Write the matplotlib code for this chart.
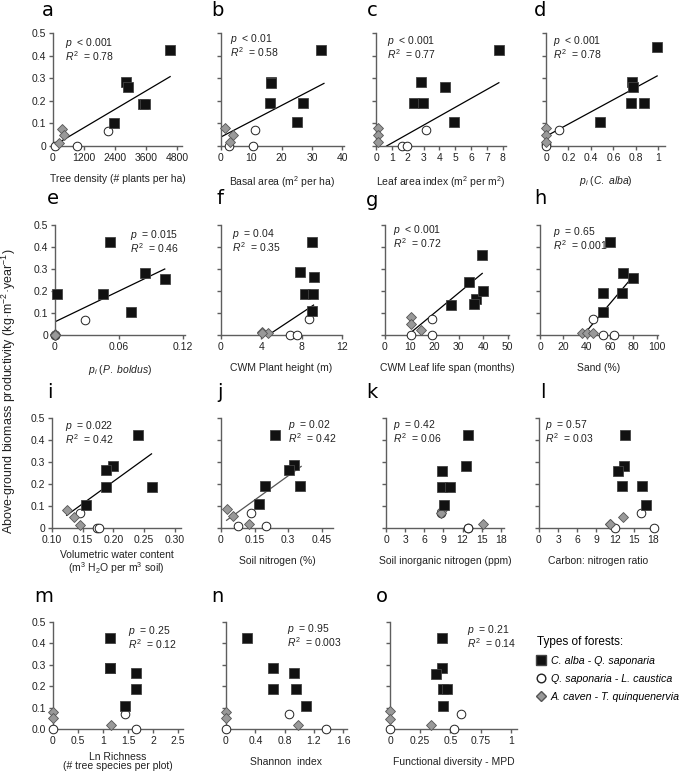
import matplotlib.pyplot as plt
from matplotlib.lines import Line2D

plt.rcParams['font.family'] = ['Liberation Sans', 'DejaVu Sans']
plt.rcParams['mathtext.fontset'] = 'custom'
plt.rcParams['mathtext.rm'] = 'Liberation Sans'
plt.rcParams['mathtext.it'] = 'Liberation Sans:italic'

# (x, y) per forest type in each panel; y = AGB productivity (kg m-2 yr-1)
a_alba = [(4540, 0.426), (2815, 0.282), (2918, 0.26), (3480, 0.187), (3560, 0.187), (2360, 0.102)]
a_sap = [(2140, 0.067), (934, 0.0), (65, 0.0)]
a_cav = [(350, 0.077), (415, 0.047), (233, 0.015)]
a_fit = [(0, 0.0), (4540, 0.307)]

b_alba = [(32.8, 0.426), (16.6, 0.284), (16.4, 0.28), (27.0, 0.19), (16.0, 0.19), (25.1, 0.107)]
b_sap = [(11.3, 0.07), (10.5, 0.0), (2.75, 0.0)]
b_cav = [(1.4, 0.08), (3.9, 0.05), (2.9, 0.018)]
b_fit = [(0, 0.04), (33.9, 0.277)]

c_alba = [(7.75, 0.426), (2.84, 0.285), (4.36, 0.26), (2.42, 0.19), (2.99, 0.19), (4.95, 0.107)]
c_sap = [(3.16, 0.07), (1.62, 0.0), (1.94, 0.0)]
c_cav = [(0.15, 0.08), (0.15, 0.05), (0.15, 0.018)]
c_fit = [(0.67, 0.0), (7.75, 0.28)]

d_alba = [(0.99, 0.436), (0.765, 0.285), (0.772, 0.262), (0.754, 0.19), (0.87, 0.19), (0.48, 0.105)]
d_sap = [(0.118, 0.07), (0.0, 0.008), (0.0, 0.0)]
d_cav = [(0.0, 0.08), (0.0, 0.05), (0.0, 0.018)]
d_fit = [(0, 0.043), (0.99, 0.31)]

e_alba = [(0.0514, 0.422), (0.0848, 0.282), (0.1035, 0.256), (0.002, 0.187), (0.045, 0.187), (0.071, 0.104)]
e_sap = [(0.028, 0.066), (0.0, 0.0), (0.0, 0.0)]
e_cav = [(0.0, 0.005), (0.0, 0.0), (0.0, 0.0)]
e_fit = [(0, 0.06), (0.103, 0.3)]

f_alba = [(9.02, 0.425), (7.79, 0.286), (9.18, 0.262), (8.35, 0.188), (9.08, 0.188), (9.02, 0.107)]
f_sap = [(8.75, 0.071), (6.8, 0.0), (7.52, 0.0)]
f_cav = [(4.11, 0.014), (4.7, 0.008), (4.1, 0.01)]
f_fit = [(4.7, 0.0), (9.18, 0.136)]

g_alba = [(39.6, 0.363), (34.2, 0.242), (36.9, 0.163), (36.2, 0.143), (39.9, 0.2), (27.0, 0.135)]
g_sap = [(19.2, 0.074), (10.4, 0.0), (19.2, 0.0)]
g_cav = [(10.4, 0.082), (10.4, 0.052), (14.6, 0.021)]
g_fit = [(10.4, 0.01), (39.6, 0.28)]

h_alba = [(60.0, 0.424), (71.4, 0.284), (80.0, 0.258), (53.7, 0.19), (70.0, 0.19), (54.3, 0.106)]
h_sap = [(45.7, 0.071), (53.7, 0.0), (63.4, 0.0)]
h_cav = [(35.7, 0.01), (40.6, 0.01), (45.7, 0.01)]
h_fit = [(37.1, 0.0), (80.0, 0.269)]

i_alba = [(0.2405, 0.425), (0.199, 0.283), (0.188, 0.262), (0.188, 0.187), (0.262, 0.187), (0.1557, 0.105)]
i_sap = [(0.146, 0.067), (0.173, 0.0), (0.176, 0.0)]
i_cav = [(0.124, 0.081), (0.135, 0.051), (0.146, 0.015)]
i_fit = [(0.124, 0.058), (0.262, 0.337)]

j_alba = [(0.24, 0.423), (0.324, 0.285), (0.303, 0.263), (0.195, 0.189), (0.354, 0.189), (0.17, 0.108)]
j_sap = [(0.135, 0.069), (0.074, 0.008), (0.2, 0.008)]
j_cav = [(0.025, 0.085), (0.055, 0.054), (0.126, 0.02)]
j_fit = [(0.025, 0.035), (0.358, 0.28)]

k_alba = [(12.9, 0.424), (12.6, 0.284), (8.74, 0.261), (8.74, 0.188), (10.05, 0.188), (9.16, 0.106)]
k_sap = [(8.59, 0.069), (12.8, 0.0), (12.9, 0.0)]
k_cav = [(8.74, 0.083), (15.2, 0.018), (8.6, 0.07)]

l_alba = [(13.6, 0.424), (13.4, 0.28), (12.5, 0.261), (13.06, 0.189), (16.2, 0.189), (16.8, 0.106)]
l_sap = [(16.05, 0.07), (12.0, 0.0), (18.15, 0.0)]
l_cav = [(13.27, 0.051), (11.17, 0.019), (11.2, 0.017)]

m_alba = [(1.133, 0.427), (1.133, 0.286), (1.653, 0.262), (1.653, 0.189), (1.433, 0.109), (1.133, 0.286)]
m_sap = [(1.433, 0.071), (1.667, 0.0), (0.0, 0.0)]
m_cav = [(0.0, 0.081), (0.0, 0.05), (1.153, 0.019)]

n_alba = [(0.291, 0.427), (0.636, 0.286), (0.927, 0.262), (0.636, 0.189), (0.955, 0.189), (1.086, 0.107)]
n_sap = [(0.855, 0.07), (1.36, 0.0), (0.0, 0.0)]
n_cav = [(0.0, 0.081), (0.0, 0.05), (0.986, 0.019)]

o_alba = [(0.428, 0.425), (0.428, 0.285), (0.381, 0.259), (0.442, 0.188), (0.47, 0.188), (0.436, 0.106)]
o_sap = [(0.586, 0.07), (0.53, 0.0), (0.0, 0.0)]
o_cav = [(0.0, 0.083), (0.0, 0.048), (0.337, 0.019)]

letters = list('abcdefghijklmno')
p_text = ['< 0.001', '< 0.01', '< 0.001', '< 0.001', '= 0.015', '= 0.04', '< 0.001', '= 0.65',
          '= 0.022', '= 0.02', '= 0.42', '= 0.57', '= 0.25', '= 0.95', '= 0.21']
r2_text = ['0.78', '0.58', '0.77', '0.78', '0.46', '0.35', '0.72', '0.001',
           '0.42', '0.42', '0.06', '0.03', '0.12', '0.003', '0.14']
xlabels = ['Tree density (# plants per ha)', 'Basal area (m$^2$ per ha)',
           'Leaf area index (m$^2$ per m$^2$)', r'$p_i$ ($C.\ alba$)',
           r'$p_i$ ($P.\ boldus$)', 'CWM Plant height (m)', 'CWM Leaf life span (months)', 'Sand (%)',
           'Volumetric water content\n(m$^3$ H$_2$O per m$^3$ soil)', 'Soil nitrogen (%)',
           'Soil inorganic nitrogen (ppm)', 'Carbon: nitrogen ratio',
           'Ln Richness\n(# tree species per plot)', 'Shannon  index', 'Functional diversity - MPD']
xticks = [[0, 1200, 2400, 3600, 4800], [0, 10, 20, 30, 40], list(range(9)), [0, 0.2, 0.4, 0.6, 0.8, 1],
          [0, 0.06, 0.12], [0, 4, 8, 12], [0, 10, 20, 30, 40, 50], [0, 20, 40, 60, 80, 100],
          [0.10, 0.15, 0.20, 0.25, 0.30], [0, 0.15, 0.3, 0.45], [0, 3, 6, 9, 12, 15, 18],
          [0, 3, 6, 9, 12, 15, 18], [0, 0.5, 1, 1.5, 2, 2.5], [0, 0.4, 0.8, 1.2, 1.6], [0, 0.25, 0.5, 0.75, 1]]
xticklabels = [None, None, None, ['0', '0.2', '0.4', '0.6', '0.8', '1'], ['0', '0.06', '0.12'], None, None, None,
               ['0.10', '0.15', '0.20', '0.25', '0.30'], ['0', '0.15', '0.3', '0.45'], None, None,
               ['0', '0.5', '1', '1.5', '2', '2.5'], ['0', '0.4', '0.8', '1.2', '1.6'],
               ['0', '0.25', '0.5', '0.75', '1']]
yticks = [0, 0.1, 0.2, 0.3, 0.4, 0.5]

alba = [a_alba, b_alba, c_alba, d_alba, e_alba, f_alba, g_alba, h_alba, i_alba, j_alba, k_alba, l_alba, m_alba, n_alba, o_alba]
sap = [a_sap, b_sap, c_sap, d_sap, e_sap, f_sap, g_sap, h_sap, i_sap, j_sap, k_sap, l_sap, m_sap, n_sap, o_sap]
cav = [a_cav, b_cav, c_cav, d_cav, e_cav, f_cav, g_cav, h_cav, i_cav, j_cav, k_cav, l_cav, m_cav, n_cav, o_cav]
fits = [a_fit, b_fit, c_fit, d_fit, e_fit, f_fit, g_fit, h_fit, i_fit, j_fit, None, None, None, None, None]

# layout in pixels: left, width, xlim, row (top, bottom), stats position
W, H = 685, 773
rows = [(33, 146), (225, 335), (418, 528), (622, 729)]
layout = [(53, 129, (0, 5000), 0, (65, 43)), (221, 123, (0, 40.5), 0, (230, 39)),
          (376, 130, (0, 8.2), 0, (387, 41)), (546, 119, (0, 1.06), 0, (553, 41)),
          (55, 130, (0, 0.122), 1, (130, 235)), (221, 121, (0, 12), 1, (232, 234)),
          (385, 124, (0, 50.5), 1, (393, 230)), (540, 118, (0, 101), 1, (553, 232)),
          (52, 129, (0.1, 0.31), 2, (65, 426)), (221, 112, (0, 0.5), 2, (288, 425)),
          (386, 118, (0, 18.5), 2, (393, 425)), (539, 118, (0, 18.6), 2, (545, 425)),
          (53, 130, (0, 2.6), 3, (128, 631)), (226, 121, (0, 1.65), 3, (287, 629)),
          (390, 127, (0, 1.05), 3, (467, 630))]
letter_pos = [(48, 11), (217, 10), (372, 10), (540, 10), (53, 198), (220, 198), (372, 200), (540, 198),
              (50, 392), (220, 392), (372, 392), (543, 392), (44, 597), (217, 597), (382, 597)]

axc = '#5e5e5e'
fig = plt.figure(figsize=(W / 100, H / 100), dpi=100)

for k in range(15):
    left, width, xlim, r, spos = layout[k]
    top, bot = rows[r]
    ax = fig.add_axes([left / W, 1 - bot / H, width / W, (bot - top) / H])
    ax.set_xlim(*xlim)
    ax.set_ylim(0, 0.5)
    for s in ['top', 'right']:
        ax.spines[s].set_visible(False)
    for s in ['left', 'bottom']:
        ax.spines[s].set_color(axc)
        ax.spines[s].set_linewidth(1.0)
    ax.tick_params(direction='out', length=3, width=1, color=axc, labelsize=7.5,
                   labelcolor='#222222', pad=2)
    ax.set_xticks(xticks[k])
    if xticklabels[k] is not None:
        ax.set_xticklabels(xticklabels[k])
    ax.set_yticks(yticks)
    if k % 4 == 0 and k < 12:
        ax.set_yticklabels(['0', '0.1', '0.2', '0.3', '0.4', '0.5'])
    elif k == 12:
        ax.set_yticklabels(['0.0', '0.1', '0.2', '0.3', '0.4', '0.5'])
    else:
        ax.set_yticklabels([])
    two_line = '\n' in xlabels[k]
    ax.set_xlabel(xlabels[k], fontsize=7.5, labelpad=4 if two_line else 8, color='#222222',
                  linespacing=0.95)

    if fits[k] is not None:
        fx = [p[0] for p in fits[k]]
        fy = [p[1] for p in fits[k]]
        lc = '#555555' if k == 9 else 'black'
        ax.plot(fx, fy, color=lc, lw=0.9, zorder=2)

    ax.plot([p[0] for p in alba[k]], [p[1] for p in alba[k]], 's', ms=7.3, mfc='#111111',
            mec='#444444', mew=0.6, clip_on=False, zorder=4)
    ax.plot([p[0] for p in sap[k]], [p[1] for p in sap[k]], 'o', ms=6.2, mfc='white',
            mec='#222222', mew=0.7, clip_on=False, zorder=3)
    ax.plot([p[0] for p in cav[k]], [p[1] for p in cav[k]], 'D', ms=4.8, mfc='#999999',
            mec='#555555', mew=0.6, clip_on=False, zorder=3)

    fig.text(spos[0] / W, 1 - spos[1] / H, r'$p$  ' + p_text[k], fontsize=7.5, va='center', color='#222222')
    fig.text(spos[0] / W, 1 - (spos[1] + 13) / H, r'$R^2$  = ' + r2_text[k], fontsize=7.5, va='center',
             color='#222222')
    fig.text(letter_pos[k][0] / W, 1 - letter_pos[k][1] / H, letters[k], fontsize=14, ha='center',
             va='center', family='DejaVu Sans')

fig.text(9 / W, 1 - 391 / H, 'Above-ground biomass productivity (kg·m$^{-2}$·year$^{-1}$)',
         rotation=90, ha='center', va='center', fontsize=9, color='#222222')

handles = [Line2D([], [], ls='none', marker='s', ms=7.3, mfc='#111111', mec='#444444'),
           Line2D([], [], ls='none', marker='o', ms=6.2, mfc='white', mec='#222222'),
           Line2D([], [], ls='none', marker='D', ms=4.8, mfc='#999999', mec='#555555')]
labels = ['C. alba - Q. saponaria', 'Q. saponaria - L. caustica', 'A. caven - T. quinquenervia']
leg = fig.legend(handles, labels, loc='upper left', bbox_to_anchor=(537 / W, 1 - 636 / H), frameon=False,
                 title='Types of forests:', alignment='left', prop={'style': 'italic', 'size': 7.7},
                 title_fontsize=8.5, handlelength=0.8, handletextpad=0.5, labelspacing=0.75,
                 borderpad=0, borderaxespad=0)

fig.savefig('out.png', dpi=100)
